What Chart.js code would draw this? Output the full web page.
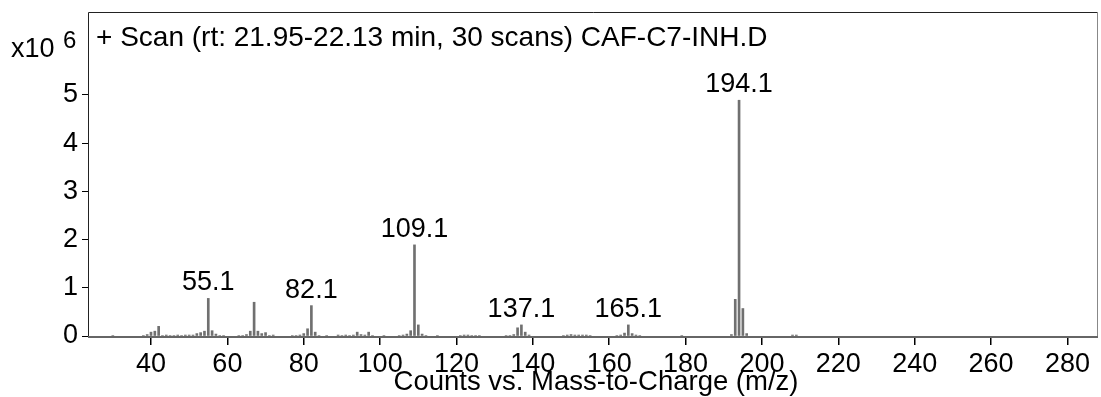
<!DOCTYPE html>
<html>
<head>
<meta charset="utf-8">
<script src="https://cdn.jsdelivr.net/npm/chart.js@4.4.1/dist/chart.umd.min.js"></script>
<style>
  html, body { margin: 0; padding: 0; background: #fff; }
  #wrap { width: 1101px; height: 397px; }
</style>
</head>
<body>
<div id="wrap"><canvas id="spectrum" width="1101" height="397"></canvas></div>
<script>
// m/z values of each line in the scan
const mzValues = [30, 38, 39, 40, 41, 42, 43, 44, 45, 46, 47, 48, 49, 50, 51, 52, 53, 54, 55, 56, 57, 58, 59,
    63, 64, 65, 66, 67, 68, 69, 70, 71, 72, 77, 78, 79, 80, 81, 82, 83, 84,
    86, 89, 90, 91, 92, 93, 94, 95, 96, 97, 98, 101, 105, 106, 107, 108, 109, 110, 111, 112, 115,
    121, 122, 123, 124, 125, 126, 133, 134, 135, 136, 137, 138, 139,
    148, 149, 150, 151, 152, 153, 154, 155, 162, 163, 164, 165, 166, 167, 168,
    179, 192, 193, 194, 195, 196, 208, 209];
// counts, x10^6
const counts = [0.01, 0.01, 0.03, 0.08, 0.10, 0.20, 0.01, 0.02, 0.01, 0.01, 0.02, 0.01, 0.02, 0.02, 0.02, 0.05, 0.07, 0.10, 0.78, 0.11, 0.04, 0.01, 0.01,
    0.01, 0.01, 0.03, 0.10, 0.70, 0.10, 0.05, 0.07, 0.01, 0.02, 0.01, 0.01, 0.02, 0.05, 0.15, 0.63, 0.08, 0.01,
    0.01, 0.02, 0.01, 0.02, 0.01, 0.02, 0.08, 0.03, 0.02, 0.08, 0.01, 0.01, 0.01, 0.02, 0.04, 0.11, 1.89, 0.23, 0.04, 0.01, 0.01,
    0.01, 0.02, 0.02, 0.01, 0.01, 0.01, 0.01, 0.01, 0.03, 0.17, 0.23, 0.08, 0.02,
    0.01, 0.02, 0.03, 0.02, 0.02, 0.02, 0.02, 0.01, 0.01, 0.02, 0.06, 0.23, 0.05, 0.02, 0.01,
    0.01, 0.03, 0.76, 4.89, 0.57, 0.05, 0.02, 0.02];

const peakLabels = ['55.1', '82.1', '109.1', '137.1', '165.1', '194.1'];
const peakMz = [55, 82, 109, 137, 165, 194];

const xTicks = [40, 60, 80, 100, 120, 140, 160, 180, 200, 220, 240, 260, 280];
const yTicks = [0, 1, 2, 3, 4, 5];

const headerText = '+ Scan (rt: 21.95-22.13 min, 30 scans) CAF-C7-INH.D';
const xTitle = 'Counts vs. Mass-to-Charge (m/z)';
const FONT = '"Liberation Sans", Arial, sans-serif';

const points = mzValues.map((m, i) => ({ x: m, y: counts[i] }));

// header, peak labels, exponent, axis title and frame
const annotate = {
    id: 'annotate',
    afterDraw(chart) {
        const ctx = chart.ctx;
        const area = chart.chartArea;
        const xs = chart.scales.x;
        const ys = chart.scales.y;
        ctx.save();

        // frame
        ctx.lineWidth = 1;
        ctx.strokeStyle = '#222';
        ctx.beginPath();
        ctx.moveTo(area.left + 0.5, area.bottom);
        ctx.lineTo(area.left + 0.5, area.top + 0.5);
        ctx.lineTo(area.right, area.top + 0.5);
        ctx.stroke();
        ctx.strokeStyle = '#888';
        ctx.beginPath();
        ctx.moveTo(area.right - 0.5, area.top);
        ctx.lineTo(area.right - 0.5, area.bottom);
        ctx.stroke();
        ctx.lineWidth = 2;
        ctx.strokeStyle = '#666';
        ctx.beginPath();
        ctx.moveTo(area.left, area.bottom + 1);
        ctx.lineTo(area.right, area.bottom + 1);
        ctx.stroke();

        ctx.fillStyle = '#000';
        ctx.textBaseline = 'alphabetic';
        ctx.font = '28px ' + FONT;
        ctx.textAlign = 'left';
        ctx.fillText(headerText, area.left + 8, 46);

        // exponent
        ctx.font = '27px ' + FONT;
        ctx.fillText('x10', 11, 57);
        ctx.font = '24px ' + FONT;
        ctx.fillText('6', 63, 48);

        // peak labels
        ctx.font = '27px ' + FONT;
        ctx.textAlign = 'center';
        peakLabels.forEach((lab, i) => {
            const idx = mzValues.indexOf(peakMz[i]);
            const px = xs.getPixelForValue(mzValues[idx]);
            const py = ys.getPixelForValue(counts[idx]);
            ctx.fillText(lab, px, py - 8);
        });

        // x title
        ctx.font = '27.5px ' + FONT;
        ctx.fillText(xTitle, (area.left + area.right) / 2 + 3, 390);
        ctx.restore();
    }
};

new Chart(document.getElementById('spectrum'), {
    type: 'bar',
    data: {
        datasets: [{
            data: points,
            backgroundColor: '#707070',
            barThickness: 2,
            borderWidth: 0
        }]
    },
    options: {
        responsive: false,
        animation: false,
        events: [],
        layout: { padding: { top: 12, right: 3, left: 0, bottom: 0 } },
        plugins: {
            legend: { display: false },
            tooltip: { enabled: false }
        },
        scales: {
            x: {
                type: 'linear',
                min: 23.5,
                max: 288,
                offset: false,
                border: { display: false },
                grid: { offset: false, drawOnChartArea: false, drawTicks: true, tickLength: 9, tickColor: '#000', lineWidth: 1.5 },
                ticks: { color: '#000', font: { family: FONT, size: 27 }, padding: 3, maxRotation: 0, autoSkip: false },
                afterBuildTicks: (scale) => { scale.ticks = xTicks.map(v => ({ value: v })); },
                afterFit: (scale) => {
                    scale.height = 61;
                    scale.paddingLeft = 0;
                    scale.paddingRight = 0;
                }
            },
            y: {
                min: 0,
                max: 6.72,
                border: { display: false },
                grid: { offset: false, drawOnChartArea: false, drawTicks: true, tickLength: 6, tickColor: '#000' },
                ticks: { color: '#000', font: { family: FONT, size: 27 }, padding: 4 },
                afterBuildTicks: (scale) => { scale.ticks = yTicks.map(v => ({ value: v })); },
                afterFit: (scale) => {
                    scale.width = 88;
                    scale.paddingTop = 0;
                    scale.paddingBottom = 0;
                }
            }
        }
    },
    plugins: [annotate]
});
</script>
</body>
</html>
